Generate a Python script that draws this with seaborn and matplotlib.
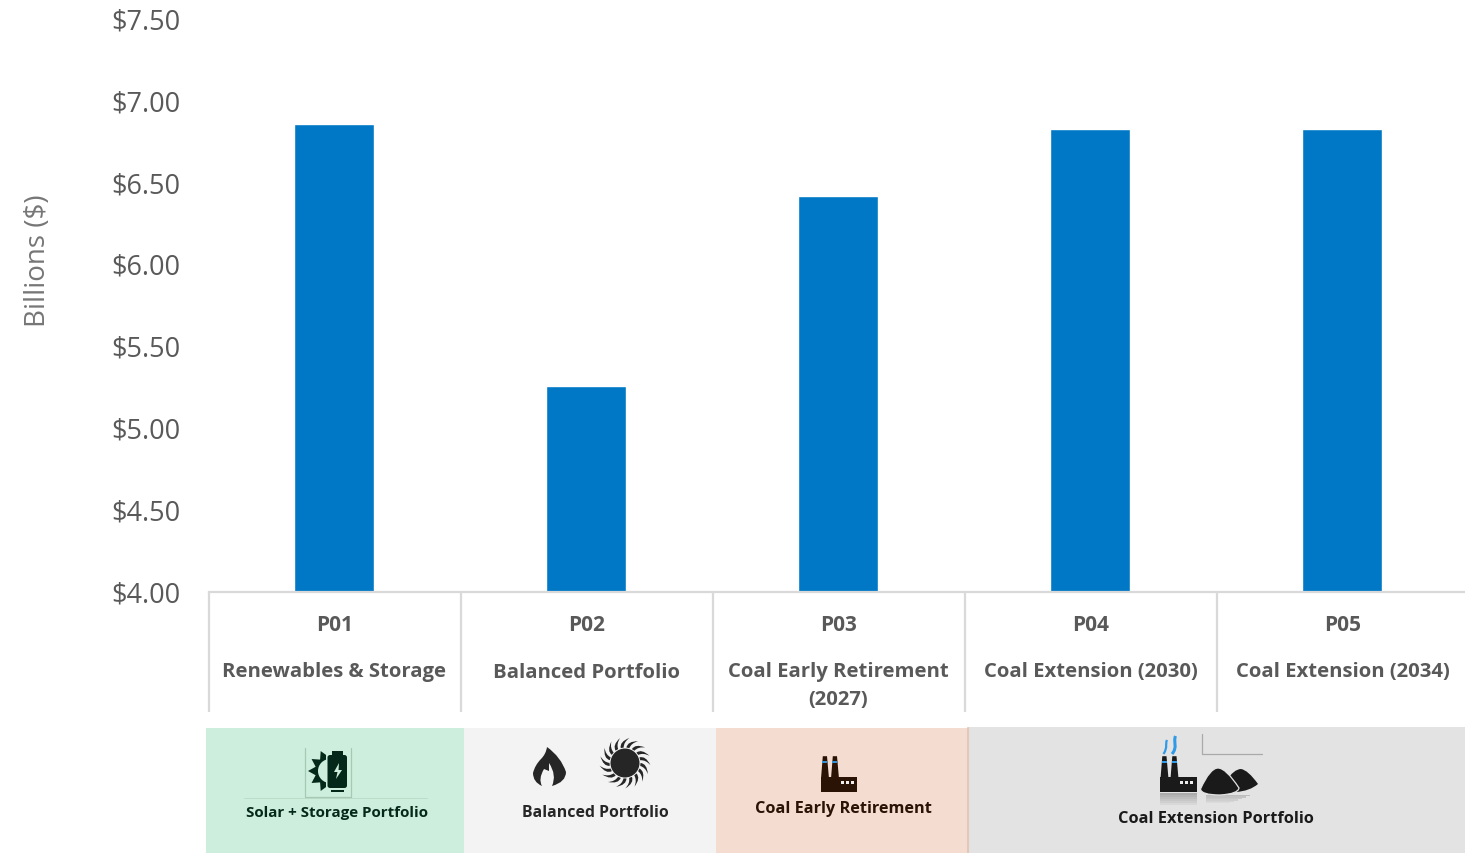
import numpy as np
import pandas as pd
import seaborn as sns
import matplotlib
matplotlib.use("Agg")
import matplotlib.pyplot as plt
from matplotlib.patches import Rectangle, Polygon, Circle, PathPatch, FancyBboxPatch
from matplotlib.path import Path
from matplotlib.transforms import ScaledTranslation

codes = ["P01", "P02", "P03", "P04", "P05"]
names = ["Renewables & Storage", "Balanced Portfolio", "Coal Early Retirement\n(2027)",
         "Coal Extension (2030)", "Coal Extension (2034)"]
values = [6.857, 5.256, 6.417, 6.827, 6.827]
yticks = [4.0, 4.5, 5.0, 5.5, 6.0, 6.5, 7.0, 7.5]

sns.set_theme(style="white")
plt.rcParams['font.family'] = ['Open Sans', 'DejaVu Sans']
W, H = 1465, 854
fig = plt.figure(figsize=(W/100, H/100), dpi=100, facecolor="white")

# overlay in pixel coordinates for bands and icons
ov = fig.add_axes([0, 0, 1, 1], zorder=0)
ov.set_xlim(0, W); ov.set_ylim(H, 0); ov.axis("off")

ax = fig.add_axes([209/W, (H-592.5)/H, 1260/W, 572.5/H], zorder=1)
ax.patch.set_alpha(0)
df = pd.DataFrame({"code": codes, "value": values})
sns.barplot(data=df, x="code", y="value", color="#0078C6", saturation=1, width=0.314, ax=ax)
ax.set_xlim(-0.496, 4.504)
ax.set_ylim(4, 7.5)
ax.set_yticks(yticks)
ax.set_yticklabels([f"${v:.2f}" for v in yticks], fontsize=19.5, color="#595959")
ax.tick_params(axis="y", length=0, pad=20.5)
up = ScaledTranslation(0, 1/100, fig.dpi_scale_trans)
for lab in ax.get_yticklabels():
    lab.set_transform(lab.get_transform() + up)
ax.set_ylabel("")
ax.set_xlabel("")
for s in ["top", "right", "left"]:
    ax.spines[s].set_visible(False)
ax.spines["bottom"].set_color("#D9D9D9")
ax.spines["bottom"].set_linewidth(1.6)
ax.set_xticks(np.arange(-0.496, 5.0, 1.0))
ax.set_xticklabels([])
ax.tick_params(axis="x", length=120*0.72, width=1.6, color="#D9D9D9", bottom=True)

fig.text(38/W, 1-261/H, "Billions ($)", rotation=90, ha="center", va="center",
         fontsize=20, color="#767676")

for i, (c, n) in enumerate(zip(codes, names)):
    tr = ax.get_xaxis_transform()
    kw = dict(xy=(i + 0.002, 0), xycoords=tr, textcoords="offset points", ha="center", va="center",
              fontweight="bold", color="#595959", annotation_clip=False)
    ax.annotate(c, xytext=(0, -33*0.72), fontsize=15, **kw)
    first, *rest = n.split("\n")
    ax.annotate(first, xytext=(0, -80*0.72), fontsize=14.6, **kw)
    for r in rest:
        ax.annotate(r, xytext=(0, -108*0.72), fontsize=14.6, **kw)

# bottom bands
bands = [(206, 464, 729, "#CDEEDC"), (464, 716, 729, "#F3F3F3"),
         (716, 968, 729, "#F4DDD0"), (968, 1465, 728, "#E3E3E3")]
for x0, x1, y0, col in bands:
    ov.add_patch(Rectangle((x0, y0), x1-x0, H-y0, fc=col, ec="none"))
ov.plot([968, 968], [729, 854], color="#E2C8B8", lw=1.5)

labels = [(336.5, 813, "Solar + Storage Portfolio", "#04291A", 10.9),
          (595, 813, "Balanced Portfolio", "#262626", 11.4),
          (843, 809.5, "Coal Early Retirement", "#2A1205", 11.7),
          (1216, 819.5, "Coal Extension Portfolio", "#1A1A1A", 11.8)]
for x, y, t, col, fs in labels:
    ov.text(x, y, t, ha="center", va="center", fontsize=fs, fontweight="bold", color=col)

# solar + storage icon
dk = "#04291A"
bg = "#CDEEDC"
ov.plot([244, 427], [799, 799], color="#BBDCC9", lw=0.7)
ov.plot([304.5, 304.5, 350.5, 350.5], [749, 798, 798, 749], color="#A5C9B4", lw=0.9)
ov.add_patch(Circle((330, 772), 14, fc=dk, ec="none"))
ov.add_patch(Circle((330, 772), 12, fc=bg, ec="none"))
for a in [115, 147, 180, 213, 245]:
    r = np.radians(a)
    ca, sa = np.cos(r), np.sin(r)
    ov.add_patch(Polygon([(330+13*ca-5*sa, 772+13*sa+5*ca), (330+13*ca+5*sa, 772+13*sa-5*ca),
                          (330+22*ca, 772+22*sa)], fc=dk, ec="none"))
ov.add_patch(Rectangle((325.5, 752), 24, 42, fc=bg, ec="none"))
ov.add_patch(FancyBboxPatch((329, 757.5), 16.5, 30, boxstyle="round,pad=1.5,rounding_size=2.5", fc=dk, ec="none"))
ov.add_patch(Rectangle((332, 752), 10.5, 3.5, fc=dk, ec="none"))
ov.add_patch(Rectangle((331, 790.5), 13, 2.5, fc=dk, ec="none"))
ov.add_patch(Polygon([(339, 764), (334, 773), (337.5, 773), (336, 780), (342, 771), (338.5, 771)],
                     fc=bg, ec="none"))

# flame icon
M, C, L = Path.MOVETO, Path.CURVE3, Path.LINETO
fl = Path([(547, 748), (561, 758), (566, 773), (566, 783), (552, 787),
           (557, 776), (549, 764), (549, 772), (544, 770), (538, 780), (542, 787),
           (533, 783), (533, 774), (535, 766), (541, 760), (546, 755), (547, 748)],
          [M, C, C, C, C, C, C, L, L, C, C, C, C, C, C, C, C])
ov.add_patch(PathPatch(fl, fc="#262626", ec="none"))

# sun icon
sc = (625, 764)
ov.add_patch(Circle(sc, 14.5, fc="#262626", ec="none"))
for a in np.arange(0, 360, 360/17):
    t0, t1, t2 = np.radians(a), np.radians(a+11), np.radians(a+26)
    pt = lambda rad, th: (sc[0]+rad*np.cos(th), sc[1]+rad*np.sin(th))
    ray = Path([pt(15.5, t0), pt(22, t0+0.02), pt(25.5, t2), pt(21, t1+0.02), pt(15.5, t1)],
               [M, C, C, C, C])
    ov.add_patch(PathPatch(ray, fc="#262626", ec="none"))

def factory(ox, oy, col, stripe):
    # ox: left of block, oy: bottom of block
    ov.add_patch(Rectangle((ox, oy-14.5), 36.5, 14.5, fc=col, ec="none"))
    for dx in (0.5, 10.5):
        ov.add_patch(Polygon([(ox+dx, oy-13), (ox+dx+1.8, oy-35.5), (ox+dx+6, oy-35.5), (ox+dx+8, oy-13)],
                             fc=col, ec="none"))
        ov.add_patch(Rectangle((ox+dx+1.4, oy-31), 5, 2, fc=stripe, ec="none"))
    for dx in (20, 25, 30):
        ov.add_patch(Rectangle((ox+dx, oy-11), 3, 3, fc="#EDEDED", ec="none"))

factory(820.5, 792.7, "#2A1205", "#2F8FD0")
factory(1160, 792.7, "#1A1A1A", "#2F9BE8")

# fading reflections beneath factory and coal
for k in range(6):
    al = 0.5 - k*0.08
    ov.add_patch(Rectangle((1160, 793.5+k*2), 36.5, 2, fc="#777777", ec="none", alpha=al))
    ov.add_patch(Rectangle((1206, 796+k*1.4), 44-k*4, 1.4, fc="#999999", ec="none", alpha=al))

# smoke
for pts, lw in (([(1163.5, 755), (1168, 748), (1165, 745), (1167, 741)], 1.6),
                ([(1172, 755), (1178, 748), (1173, 743), (1175.5, 737)], 2.2)):
    p = Path(pts, [M, Path.CURVE4, Path.CURVE4, Path.CURVE4])
    ov.add_patch(PathPatch(p, fc="none", ec="#2F9BE8", lw=lw))

# corner line
ov.plot([1201.5, 1201.5, 1262], [735, 755, 755], color="#AAAAAA", lw=0.9)

# coal piles
back = Path([(1226, 782), (1234, 770), (1241, 770), (1248, 771), (1258, 785),
             (1250, 792), (1236, 793), (1226, 790), (1226, 782)], [M, C, C, C, C, C, C, L, L])
ov.add_patch(PathPatch(back, fc="#1A1A1A", ec="none"))
front = Path([(1200.5, 790), (1210, 769), (1218, 769), (1226, 769), (1239, 789),
              (1238, 795), (1220, 796), (1201, 796), (1200.5, 790)], [M, C, C, C, C, C, C, C, C])
ov.add_patch(PathPatch(front, fc="#1A1A1A", ec="#E3E3E3", lw=0.9))

fig.savefig("out.png", dpi=100)
